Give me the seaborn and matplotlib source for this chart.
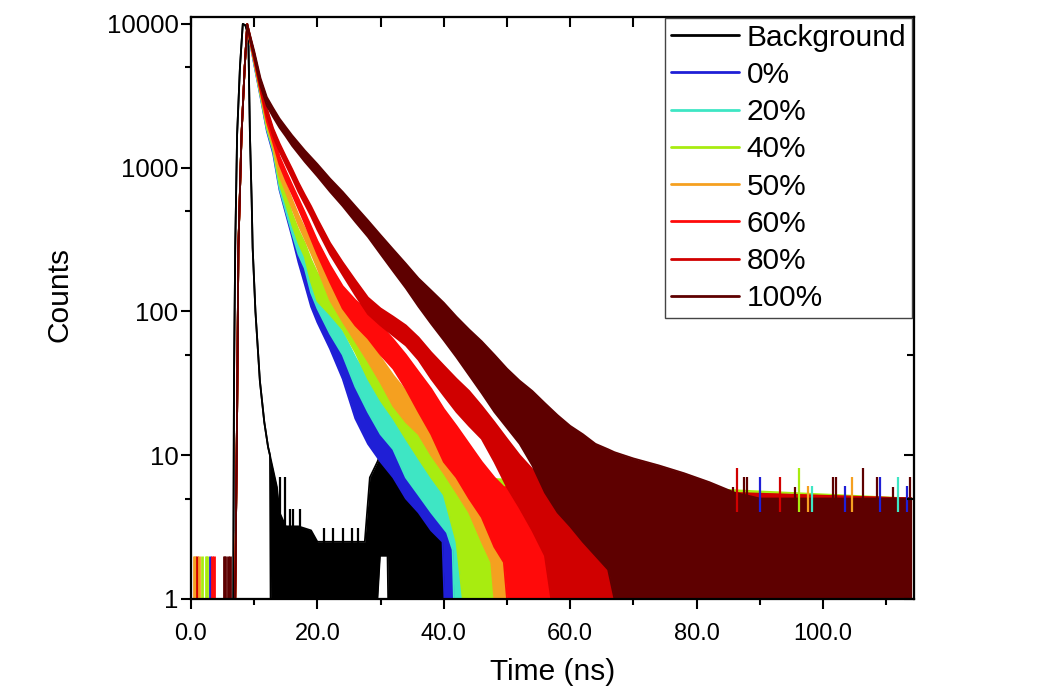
import seaborn as sns
import matplotlib
matplotlib.use("Agg")
import matplotlib.pyplot as plt
from matplotlib.lines import Line2D
from matplotlib.ticker import LogLocator, MultipleLocator, FuncFormatter, NullFormatter

# ---- values (time in ns, counts) ----
# band = lower / upper edge of the noisy trace
labels = ['Background', '0%', '20%', '40%', '50%', '60%', '80%', '100%']
colours = ['#000000', '#1f1fd6', '#3ee6c4', '#a8ec10', '#f5a020', '#ff0a0a', '#d00000', '#5e0000']

# shared rising edge of the sample traces
rise_t = [7.0, 7.3, 7.5, 8.0, 8.5]
rise_c = [1, 20, 277, 1700, 5000]

bg_t = [6.7, 6.8, 7.0, 7.3, 7.75, 8.2, 8.6, 9.07, 9.33, 9.6, 9.76, 10.2, 10.9, 11.6, 12.2, 12.5, 12.6,
        13.6, 14.0, 15.0, 17.0, 19.0, 20.0, 27.5, 28.3, 29.5, 29.9, 30.2, 31.1, 31.2, 32.0, 33.0,
        35.0, 37.0, 39.5, 40.0, 40.1]
bg_lo = [1, 30, 280, 1700, 5000, 10000, 9800, 8400, 1700, 600, 277, 100, 33, 17, 11.4, 10, 1,
         1, 1, 1, 1, 1, 1, 1, 1, 1, 2, 2, 2, 1, 1, 1,
         1, 1, 1, 1, 1]
bg_hi = [1, 30, 280, 1700, 5000, 10000, 9800, 8400, 1700, 600, 277, 100, 33, 17, 11.4, 10, 9.5,
         6, 4, 3.2, 3.2, 3, 2.5, 2.5, 7, 9, 10, 10.8, 9, 9, 7.5, 6.5,
         4.5, 3.5, 3, 2.5, 1]

p0_t = [8.9, 9.4, 10, 11, 12, 13, 14, 15, 16, 17, 18, 19, 20, 22, 24, 26, 28, 30, 32, 34, 36, 38, 39.8, 40.1, 114]
p0_lo = [9800, 7200, 5200, 3100, 1800, 1250, 700, 480, 330, 220, 155, 108, 84, 55, 34, 18, 12, 9, 7, 5, 4, 3, 2.5, 1, 1]
p0_hi = [10000, 7800, 5800, 3500, 2100, 1450, 800, 560, 390, 270, 195, 140, 112, 80, 55, 40, 30, 22, 17, 13, 10, 8, 6, 5, 5]

p20_t = [8.9, 9.4, 10, 11, 12, 13, 14, 15, 16, 17, 18, 19, 20, 22, 24, 26, 28, 30, 32, 34, 36, 38, 40.5, 41.4, 41.6, 114]
p20_lo = [9800, 7300, 5300, 3150, 1850, 1300, 720, 500, 350, 250, 200, 135, 105, 70, 50, 30, 20, 14, 11, 7, 5.3, 4, 2.9, 2.2, 1, 1]
p20_hi = [10000, 7900, 5900, 3550, 2150, 1500, 840, 590, 420, 300, 245, 170, 135, 95, 72, 48, 34, 26, 21, 15, 12, 9, 7, 6, 5, 5]

p40_t = [8.9, 9.4, 10, 11, 12, 13, 14, 15, 16, 17, 18, 19, 20, 22, 24, 26, 28, 30, 32, 34, 36, 38, 40, 42, 43, 114]
p40_lo = [9800, 7300, 5400, 3200, 1900, 1350, 780, 560, 400, 300, 240, 160, 118, 95, 75, 52, 34, 24, 18, 13, 9.5, 7, 5.3, 2.5, 1, 1]
p40_hi = [10000, 7900, 6000, 3600, 2200, 1550, 900, 660, 480, 370, 300, 230, 185, 140, 105, 78, 55, 42, 33, 25, 19, 15, 11, 8, 7, 5]

p50_t = [8.9, 9.4, 10, 11, 12, 13, 14, 15, 16, 17, 18, 19, 20, 22, 24, 26, 28, 30, 32, 34, 36, 38, 40, 42, 44, 46, 47.5, 48, 114]
p50_lo = [9800, 7400, 5500, 3300, 2000, 1400, 880, 680, 520, 400, 320, 255, 200, 120, 85, 62, 45, 32, 22, 17, 14, 10, 7.5, 5.5, 4, 2.5, 1.8, 1, 1]
p50_hi = [10000, 8000, 6100, 3700, 2300, 1600, 1000, 780, 600, 470, 380, 310, 250, 160, 120, 90, 65, 48, 36, 28, 23, 17, 13, 10, 8, 6, 5.5, 5, 5]

p60_t = [8.9, 9.4, 10, 11, 12, 13, 14, 15, 16, 17, 18, 19, 20, 22, 24, 26, 28, 30, 32, 34, 36, 38, 40, 42, 44, 46, 48, 49.5, 50, 114]
p60_lo = [9800, 7400, 5600, 3400, 2100, 1500, 1050, 820, 655, 520, 410, 320, 250, 160, 105, 80, 65, 50, 40, 29, 20, 14, 9, 7, 5, 3.7, 2.3, 1.8, 1, 1]
p60_hi = [10000, 8000, 6200, 3800, 2400, 1700, 1200, 950, 760, 610, 490, 390, 310, 210, 150, 120, 100, 80, 64, 50, 38, 29, 21, 16, 12, 9, 7, 6, 6, 5]

p80_t = [8.9, 9.4, 10, 11, 12, 13, 14, 15, 16, 17, 18, 19, 20, 22, 24, 26, 28, 30, 32, 34, 36, 38, 40, 42, 44, 46, 48, 50, 52, 54, 56, 57, 114]
p80_lo = [9800, 7500, 5700, 3500, 2300, 1650, 1300, 1050, 850, 680, 560, 460, 370, 250, 180, 130, 96, 80, 68, 58, 46, 34, 26, 20, 16, 13, 9, 6, 4.3, 3, 2, 1, 1]
p80_hi = [10000, 8100, 6300, 3950, 2600, 1880, 1480, 1200, 980, 790, 650, 540, 440, 300, 220, 165, 125, 105, 92, 80, 66, 52, 42, 34, 28, 22, 17, 13, 10, 8, 7, 6, 5]

p100_t = [8.9, 9.4, 10, 11, 12, 13, 14, 15, 16, 18, 20, 22, 24, 26, 28, 30, 32, 34, 36, 38, 40, 42, 44, 46, 48, 50,
          52, 54, 56, 58, 60, 62, 64, 66, 67, 70, 74, 78, 82, 86, 90, 114]
p100_lo = [9800, 7600, 5900, 3700, 2700, 2250, 1900, 1650, 1420, 1100, 870, 680, 540, 420, 330, 250, 190, 145, 108, 82,
           63, 48, 36, 27, 20, 15.5, 12, 8.5, 5.5, 4, 3.2, 2.5, 2, 1.6, 1, 1, 1, 1, 1, 1, 1, 1]
p100_hi = [10000, 8200, 6500, 4200, 3100, 2600, 2200, 1920, 1680, 1320, 1060, 840, 680, 540, 430, 340, 270, 215, 170, 140,
           115, 92, 75, 62, 50, 40, 33, 28, 23, 19, 16, 14, 12, 11, 10.5, 9.5, 8.5, 7.5, 6.5, 5.5, 5, 5]

# single-count spikes before the pulse (height 2)
pre_t = [0.45, 0.65, 1.0, 1.3, 1.7, 2.3, 2.5, 3.0, 3.4, 3.7, 5.2, 5.4, 5.9, 6.1]
pre_lbl = ['50%', '50%', '80%', '50%', '40%', '40%', '40%', '0%', '60%', '60%', '100%', '100%', '100%', '100%']

# spikes sticking out of the noise floor (background and long tail)
spike_t = [14.1, 14.9, 15.6, 16.2, 17.3, 21.0, 22.5, 24.0, 25.4, 26.5,
           86.4, 90.0, 93.2, 96.2, 97.7, 98.3, 103.5, 104.6, 109.0, 111.9, 113.3,
           85.8, 87.5, 88.0, 95.5, 101.5, 102.0, 106.3, 108.5, 111.0, 113.8]
spike_v = [7, 7, 4.2, 4.2, 4.2, 3.1, 3.1, 3.1, 3.1, 3.1,
           8.1, 7, 7, 8.1, 6.1, 6.1, 6.1, 7, 7, 7, 6.1,
           6, 7, 7, 6, 7, 7, 8.1, 7, 6, 7]
spike_lbl = ['Background'] * 10 + ['80%', '0%', '80%', '40%', '50%', '20%', '0%', '50%', '0%', '20%', '0%'] + ['100%'] * 10

sample_data = [(p0_t, p0_lo, p0_hi), (p20_t, p20_lo, p20_hi), (p40_t, p40_lo, p40_hi), (p50_t, p50_lo, p50_hi),
               (p60_t, p60_lo, p60_hi), (p80_t, p80_lo, p80_hi), (p100_t, p100_lo, p100_hi)]

sns.set_style('ticks')
plt.rcParams['font.family'] = ['Liberation Sans', 'DejaVu Sans']
plt.rcParams.update({'text.color': 'black', 'axes.labelcolor': 'black',
                     'xtick.color': 'black', 'ytick.color': 'black'})

fig = plt.figure(figsize=(10.51, 6.87), dpi=100)
fig.patch.set_facecolor('white')
ax = fig.add_axes([0.1817, 0.1281, 0.6880, 0.8472])

col_of = dict(zip(labels, colours))

traces = [(bg_t, bg_lo, bg_hi)]
for t, lo, hi in sample_data:
    traces.append((rise_t + t, rise_c + lo, rise_c + hi))

for z, (name, (t, lo, hi)) in enumerate(zip(labels, traces)):
    c = col_of[name]
    ax.fill_between(t, lo, hi, color=c, lw=0, zorder=2 + z)
    sns.lineplot(x=t, y=hi, color=c, lw=1.3, estimator=None, sort=False, ax=ax, zorder=2 + z, legend=False)
    sns.lineplot(x=t, y=lo, color=c, lw=1.3, estimator=None, sort=False, ax=ax, zorder=2 + z, legend=False)

ax.vlines(pre_t, 1, 2, colors=[col_of[l] for l in pre_lbl], lw=2, zorder=12)
spike_base = [2 if l == 'Background' else 4 for l in spike_lbl]
for t, b, v, l in zip(spike_t, spike_base, spike_v, spike_lbl):
    ax.vlines(t, b, v, colors=col_of[l], lw=1.6, zorder=2 if l == 'Background' else 12)

ax.set_yscale('log')
ax.set_xlim(0, 114.4)
ax.set_ylim(1, 11180)

ax.xaxis.set_major_locator(MultipleLocator(20))
ax.xaxis.set_minor_locator(MultipleLocator(10))
ax.xaxis.set_major_formatter(FuncFormatter(lambda v, p: f'{v:.1f}'))
ax.yaxis.set_major_locator(LogLocator(base=10, numticks=10))
ax.yaxis.set_minor_locator(LogLocator(base=10, subs=[5], numticks=10))
ax.yaxis.set_major_formatter(FuncFormatter(lambda v, p: f'{v:g}'))
ax.yaxis.set_minor_formatter(NullFormatter())
ax.tick_params(axis='both', which='major', direction='out', length=7, width=1.5, colors='black')
ax.tick_params(axis='both', which='minor', direction='out', length=4.5, width=1.5)
ax.tick_params(axis='x', which='major', labelsize=17, pad=10)
ax.tick_params(axis='y', which='major', labelsize=18.5, pad=2)

# mirrored ticks on top and right, pointing inward
axt = ax.twiny()
axt.set_xlim(ax.get_xlim())
axt.xaxis.set_major_locator(MultipleLocator(20))
axt.xaxis.set_minor_locator(MultipleLocator(10))
axt.tick_params(axis='x', which='both', direction='in', length=7, width=1.5, labeltop=False)
axr = ax.twinx()
axr.set_yscale('log')
axr.set_ylim(ax.get_ylim())
axr.yaxis.set_major_locator(LogLocator(base=10, numticks=10))
axr.yaxis.set_minor_locator(LogLocator(base=10, subs=[5], numticks=10))
axr.yaxis.set_minor_formatter(NullFormatter())
axr.tick_params(axis='y', which='major', direction='in', length=7, width=1.5, labelright=False)
axr.tick_params(axis='y', which='minor', direction='in', length=5, width=1.5, labelright=False)

for a in (ax, axt, axr):
    for s in a.spines.values():
        s.set_linewidth(1.5)
        s.set_color('black')

ax.set_xlabel('Time (ns)', fontsize=21.5, labelpad=10)
ax.set_ylabel('Counts', fontsize=21.5)
ax.yaxis.set_label_coords(-0.162, 0.524)

handles = [Line2D([0], [0], color=col_of[l], lw=2) for l in labels]
leg = axr.legend(handles, labels, loc='upper right', bbox_to_anchor=(0.9975, 0.999), fontsize=21.5,
                 handlelength=2.27, handletextpad=0.27, labelspacing=0.31, borderpad=0.2,
                 borderaxespad=0.0, fancybox=False, framealpha=1, edgecolor='#444444')
leg.get_frame().set_linewidth(1.0)
for txt in leg.get_texts():
    txt.set_color('black')

fig.savefig('out.png', dpi=100, facecolor='white')
